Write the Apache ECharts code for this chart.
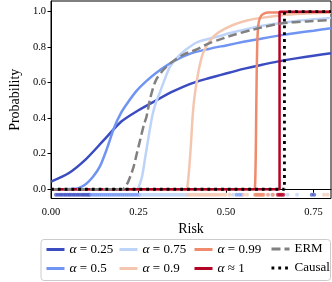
<!DOCTYPE html>
<html>
<head>
<meta charset="utf-8">
<script src="https://cdn.jsdelivr.net/npm/echarts@6/dist/echarts.min.js"></script>
<style>html,body{margin:0;padding:0;background:#fff}#c{width:332px;height:282px}</style>
</head>
<body>
<div id="c"></div>
<script>
// ---- data ----
const xTicks = [0, 0.25, 0.5, 0.75];
const yTicks = [0, 0.2, 0.4, 0.6, 0.8, 1.0];

const x025 = [0, 0.05, 0.1, 0.15, 0.2, 0.25, 0.3, 0.35, 0.4, 0.45, 0.5, 0.55, 0.6, 0.65, 0.7, 0.75, 0.8];
const y025 = [0.043, 0.09, 0.17, 0.275, 0.38, 0.445, 0.50, 0.552, 0.595, 0.625, 0.652, 0.678, 0.70, 0.72, 0.737, 0.752, 0.766];

const x05 = [0, 0.06, 0.08, 0.1, 0.12, 0.14, 0.16, 0.18, 0.2, 0.22, 0.245, 0.273, 0.3, 0.35, 0.4, 0.45, 0.5, 0.55, 0.6, 0.65, 0.7, 0.75, 0.8];
const y05 = [0, 0.002, 0.008, 0.03, 0.07, 0.13, 0.23, 0.345, 0.43, 0.49, 0.555, 0.61, 0.655, 0.72, 0.765, 0.79, 0.81, 0.83, 0.848, 0.865, 0.88, 0.893, 0.906];

const x075 = [0, 0.245, 0.25, 0.26, 0.27, 0.28, 0.29, 0.3, 0.31, 0.325, 0.34, 0.36, 0.384, 0.42, 0.477, 0.523, 0.6, 0.7, 0.8];
const y075 = [0, 0, 0.01, 0.07, 0.19, 0.31, 0.42, 0.49, 0.54, 0.62, 0.69, 0.74, 0.784, 0.83, 0.86, 0.885, 0.92, 0.948, 0.965];

const x09 = [0, 0.386, 0.39, 0.395, 0.4, 0.405, 0.41, 0.42, 0.43, 0.44, 0.46, 0.48, 0.52, 0.56, 0.6, 0.66, 0.72, 0.8];
const y09 = [0, 0, 0.02, 0.12, 0.26, 0.42, 0.52, 0.65, 0.74, 0.79, 0.85, 0.885, 0.925, 0.95, 0.965, 0.98, 0.988, 0.994];

const x099 = [0, 0.58, 0.583, 0.585, 0.587, 0.589, 0.592, 0.597, 0.605, 0.62, 0.8];
const y099 = [0, 0, 0.02, 0.2, 0.55, 0.8, 0.92, 0.965, 0.985, 0.995, 0.998];

const x1 = [0, 0.653, 0.653, 0.8];
const y1 = [0, 0, 1, 1];

const xErm = [0, 0.205, 0.21, 0.22, 0.235, 0.245, 0.255, 0.265, 0.273, 0.282, 0.29, 0.3, 0.32, 0.347, 0.38, 0.412, 0.45, 0.477, 0.523, 0.6, 0.662, 0.73, 0.8];
const yErm = [0, 0, 0.01, 0.04, 0.12, 0.2, 0.28, 0.36, 0.41, 0.5, 0.56, 0.615, 0.67, 0.718, 0.76, 0.784, 0.82, 0.84, 0.87, 0.91, 0.935, 0.945, 0.953];

const xCausal = [0, 0.667, 0.667, 0.8];
const yCausal = [0, 0, 1, 1];

// rug of sample risks (shown below zero)
const rugLevel = -0.031;
const rug025 = [0.014,0.02,0.026,0.031,0.037,0.042,0.048,0.053,0.058,0.064,0.069,0.075,0.08,0.086,0.091,0.096,0.101,0.106,0.11,0.745,0.752];
const rug05 = [0.114,0.12,0.126,0.132,0.138,0.144,0.15,0.156,0.162,0.168,0.174,0.18,0.186,0.192,0.198,0.204,0.21,0.216,0.222,0.228,0.234,0.24,0.246,0.252,0.53,0.538,0.545];
const rug075 = [0.256,0.262,0.268,0.274,0.28,0.286,0.292,0.298,0.304,0.31,0.316,0.322,0.328,0.334,0.34,0.346,0.352,0.358,0.364,0.37,0.376,0.382,0.388,0.52,0.632,0.676,0.703];
const rug09 = [0.392,0.398,0.404,0.41,0.416,0.422,0.428,0.434,0.44,0.446,0.452,0.458,0.464,0.47,0.476,0.482,0.49,0.498,0.51,0.55,0.56,0.78,0.79];
const rug099 = [0.583,0.587,0.591,0.595,0.599,0.603,0.607,0.62,0.634];
const rug1 = [0.648,0.652,0.656,0.66,0.664];

const names = ['α = 0.25', 'α = 0.5', 'α = 0.75', 'α = 0.9', 'α = 0.99', 'α ≈ 1', 'ERM', 'Causal'];
const colors = ['#3b4cc0', '#7094f2', '#bdd3f7', '#f4c6b0', '#ef8a6c', '#b40426', '#808080', '#000000'];

// ---- build ----
const zip = (xs, ys) => xs.map((x, i) => [x, ys[i]]);
const SERIF = '"Liberation Serif","DejaVu Serif",serif';

const lineSets = [[x025,y025],[x05,y05],[x075,y075],[x09,y09],[x099,y099],[x1,y1]];
const rugs = [rug025, rug05, rug075, rug09, rug099, rug1];

const series = [];
rugs.forEach((r, i) => {
  series.push({
    name: 'rug' + i, type: 'scatter', symbolSize: 4, z: 1,
    itemStyle: { color: colors[i], opacity: 0.7 },
    data: r.map(x => [x, rugLevel]), silent: true
  });
});
lineSets.forEach((s, i) => {
  const step = i === 5;
  series.push({
    name: names[i], type: 'line', symbol: 'none', showSymbol: false, z: 2 + i,
    smooth: step ? false : 0.25,
    lineStyle: { color: colors[i], width: 2.5 },
    itemStyle: { color: colors[i] },
    data: zip(s[0], s[1])
  });
});
series.push({
  name: 'ERM', type: 'line', symbol: 'none', showSymbol: false, z: 10, smooth: 0.25,
  lineStyle: { color: colors[6], width: 2.5, type: [9, 4] },
  itemStyle: { color: colors[6] },
  data: zip(xErm, yErm)
});
series.push({
  name: 'Causal', type: 'line', symbol: 'none', showSymbol: false, z: 11,
  lineStyle: { color: colors[7], width: 2.8, type: [2.8, 4], cap: 'butt' },
  itemStyle: { color: colors[7] },
  data: zip(xCausal, yCausal)
});

const legendCommon = {
  orient: 'horizontal', itemWidth: 18, itemHeight: 12, padding: 0,
  itemStyle: { opacity: 0 },
  lineStyle: { width: 3 },
  textStyle: { fontFamily: SERIF, fontSize: 13, color: '#000',
    rich: { i: { fontFamily: SERIF, fontStyle: 'italic', fontSize: 13.5 } } },
  formatter: n => n.startsWith('α') ? '{i|α}' + n.slice(1) : n,
  selectedMode: false
};
const legendColX = [45, 118, 193, 270];
const legendRowY = [242.5, 261.5];
const legends = names.map((n, i) => Object.assign({
  left: legendColX[Math.floor(i / 2)], top: legendRowY[i % 2], data: [n]
}, legendCommon));

const chart = echarts.init(document.getElementById('c'), null, { renderer: 'canvas' });
chart.setOption({
  animation: false,
  backgroundColor: '#fff',
  grid: { left: 41, top: 1, width: 290, height: 197.5, show: true, borderColor: '#000', borderWidth: 1, containLabel: false },
  xAxis: {
    type: 'value', min: 0, max: 0.8, interval: 0.25,
    name: 'Risk', nameLocation: 'middle', nameGap: 19,
    nameTextStyle: { fontFamily: SERIF, fontSize: 14, color: '#000' },
    axisLine: { show: true, lineStyle: { color: '#000', width: 1 } },
    axisTick: { show: true, length: 3.5, lineStyle: { color: '#000' }, customValues: xTicks },
    axisLabel: { margin: 8, fontFamily: SERIF, fontSize: 10.5, color: '#000', customValues: xTicks, formatter: v => v.toFixed(2) },
    splitLine: { show: false }
  },
  yAxis: {
    type: 'value', min: -0.052, max: 1.06,
    name: 'Probability', nameLocation: 'middle', nameGap: 22, nameRotate: 90,
    nameTextStyle: { fontFamily: SERIF, fontSize: 14, color: '#000' },
    axisLine: { show: true, lineStyle: { color: '#000', width: 1 } },
    axisTick: { show: true, length: 3.5, lineStyle: { color: '#000' }, customValues: yTicks },
    axisLabel: { margin: 5, fontFamily: SERIF, fontSize: 10.5, color: '#000', customValues: yTicks, formatter: v => v.toFixed(1) },
    splitLine: { show: false }
  },
  legend: legends,
  graphic: [{
    type: 'rect', z: -1, silent: true,
    shape: { x: 41, y: 239.5, width: 289.5, height: 41, r: 3 },
    style: { fill: '#fff', stroke: '#cccccc', lineWidth: 1 }
  }],
  series: series
});
</script>
</body>
</html>
